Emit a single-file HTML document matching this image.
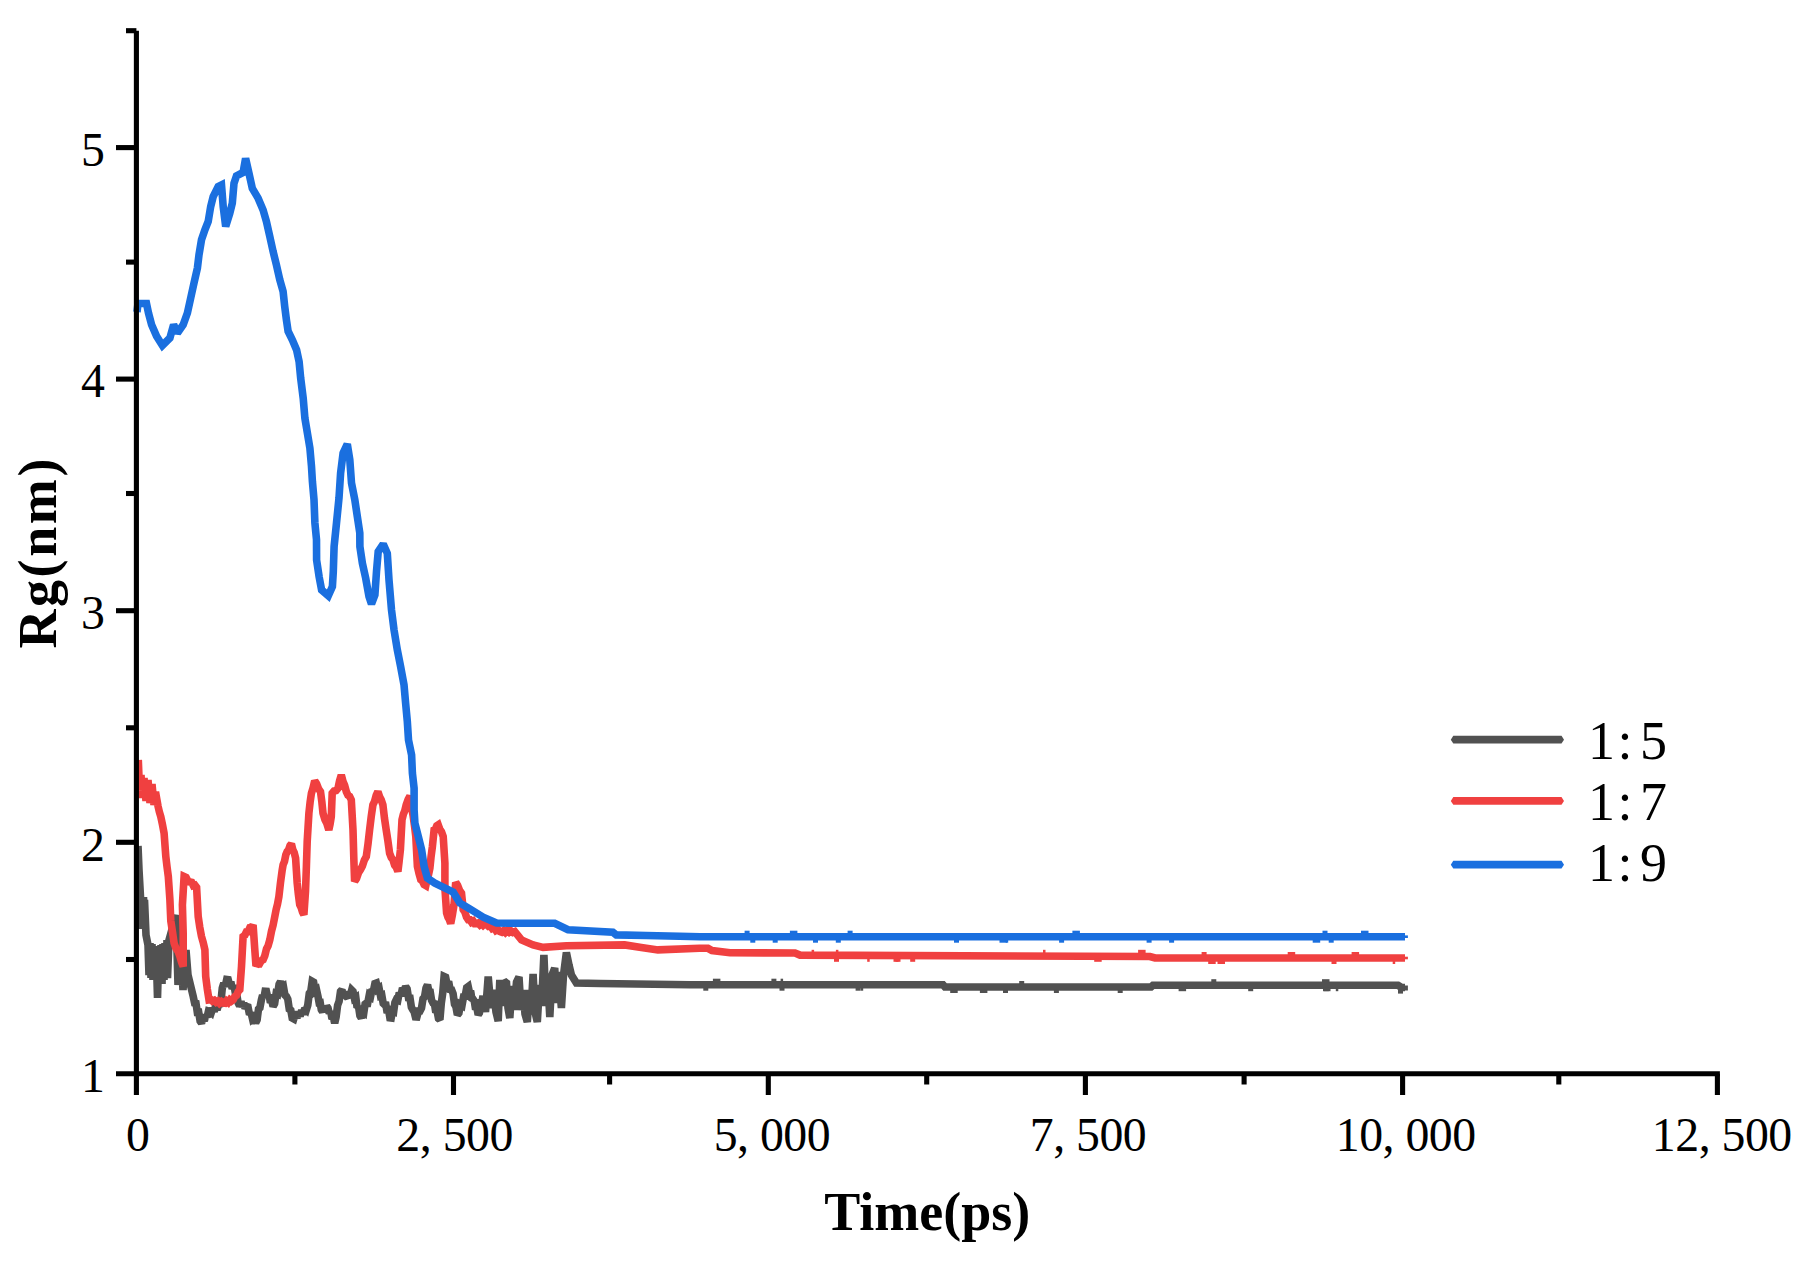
<!DOCTYPE html>
<html><head><meta charset="utf-8"><title>Rg vs Time</title>
<style>html,body{margin:0;padding:0;background:#fff}svg{display:block}</style>
</head><body>
<svg width="1805" height="1262" viewBox="0 0 1805 1262">
<rect x="0" y="0" width="1805" height="1262" fill="#fff"/>
<path d="M138.0 846.0 L139.0 870.0 L140.5 897.0 L141.0 929.0 L141.5 897.0 L142.0 929.0 L142.5 897.0 L143.0 929.0 L143.5 897.0 L144.0 929.0 L144.5 900.0 L146.0 935.0 L148.0 945.0 L149.0 975.0 L150.0 943.0 L151.0 978.0 L152.0 944.0 L153.0 980.0 L154.0 946.0 L155.0 980.0 L156.0 946.0 L157.5 998.0 L159.0 946.0 L160.0 984.0 L161.0 945.0 L162.0 984.0 L163.0 944.0 L164.0 980.0 L165.0 943.0 L166.0 978.0 L167.0 940.0 L167.5 978.0 L169.0 940.0 L176.0 915.0 L178.0 985.0 L181.0 950.0 L183.0 990.0 L186.0 950.0 L188.0 975.0 L193.2 996.4 L194.6 1003.0 L196.0 1003.3 L197.3 1012.3 L198.7 1012.2 L200.1 1021.0 L201.5 1023.0 L202.9 1018.8 L204.3 1021.0 L205.7 1014.8 L207.1 1017.1 L208.5 1011.0 L209.9 1011.4 L211.3 1012.6 L212.8 1008.1 L214.2 1011.6 L215.6 1005.8 L217.0 1009.8 L218.5 1005.0 L219.9 1006.4 L221.1 999.8 L222.3 988.1 L223.8 983.1 L225.2 986.4 L226.7 979.6 L228.2 979.8 L229.5 984.8 L230.8 981.9 L232.2 988.6 L233.5 985.7 L234.8 989.8 L235.9 996.2 L237.1 996.7 L238.2 1003.1 L239.6 1005.8 L241.0 1001.4 L242.3 1006.8 L243.7 1002.8 L245.1 1008.4 L246.5 1006.4 L248.0 1006.9 L249.5 1014.4 L251.1 1012.8 L252.6 1019.3 L254.1 1018.2 L255.6 1023.0 L257.1 1019.8 L258.5 1009.1 L259.9 1007.8 L261.4 999.8 L262.6 995.2 L263.9 997.9 L265.1 991.3 L266.4 991.4 L267.7 997.2 L269.1 994.8 L270.4 1002.5 L271.8 1000.9 L273.1 1006.4 L274.6 1003.8 L276.1 993.5 L277.6 994.1 L279.1 984.3 L280.6 981.4 L282.1 988.1 L283.5 987.0 L284.9 995.0 L286.4 996.4 L287.8 999.1 L289.3 1009.2 L290.8 1010.2 L292.2 1018.0 L293.8 1018.9 L295.4 1013.6 L296.9 1018.0 L298.5 1011.8 L300.1 1016.2 L301.7 1010.3 L303.2 1014.2 L304.8 1008.1 L306.4 1009.7 L307.8 1005.1 L309.3 993.2 L310.8 991.3 L312.2 981.4 L313.6 982.2 L315.1 991.3 L316.6 990.1 L318.0 996.4 L319.1 1002.7 L320.2 1002.6 L321.3 1009.7 L322.6 1011.9 L324.0 1006.0 L325.3 1011.5 L326.7 1006.2 L328.0 1008.0 L329.3 1013.3 L330.7 1011.4 L332.0 1018.8 L333.4 1017.6 L334.7 1023.0 L336.1 1017.1 L337.6 1005.3 L339.1 1001.2 L340.5 991.4 L341.9 989.9 L343.4 995.9 L344.9 993.1 L346.3 996.4 L347.6 997.7 L349.0 991.6 L350.3 995.3 L351.7 990.1 L353.0 991.4 L354.4 998.3 L355.8 997.4 L357.1 1007.5 L358.5 1006.3 L359.9 1015.7 L361.3 1018.0 L362.6 1012.0 L363.8 1012.8 L365.1 1004.0 L366.3 1003.1 L367.7 1003.2 L369.2 995.4 L370.6 996.5 L372.0 989.6 L373.4 990.9 L374.9 983.6 L376.3 983.1 L377.7 989.2 L379.1 988.2 L380.5 995.7 L381.8 995.2 L383.2 1003.3 L384.6 1004.7 L385.9 1004.9 L387.2 1013.0 L388.6 1010.1 L389.9 1017.8 L391.2 1018.0 L392.4 1010.9 L393.7 1011.5 L394.9 1002.5 L396.2 999.8 L397.8 1000.4 L399.3 992.6 L400.9 995.9 L402.5 988.1 L404.0 990.9 L405.6 986.4 L407.1 988.8 L408.5 997.8 L410.0 998.0 L411.4 1007.2 L412.9 1010.0 L414.1 1011.6 L415.4 1017.0 L416.9 1017.1 L418.5 1011.0 L420.0 1011.0 L421.5 1008.0 L423.0 998.7 L424.5 997.1 L426.0 988.1 L427.5 984.8 L428.9 991.3 L430.2 991.7 L431.6 1000.3 L433.0 1003.0 L434.4 1003.5 L435.8 1012.3 L437.1 1011.1 L438.5 1018.5 L439.9 1019.8 L441.3 1003.1 L442.7 993.2 L444.1 976.5 L445.6 977.2 L447.1 984.6 L448.6 981.5 L450.1 989.5 L451.6 989.8 L453.1 993.7 L454.5 1004.2 L455.9 1006.6 L457.4 1014.8 L458.9 1013.0 L460.5 1004.6 L462.0 1005.5 L463.6 996.6 L465.1 996.4 L466.7 987.6 L468.2 986.5 L469.4 992.1 L470.6 990.8 L471.8 998.3 L473.0 999.0 L474.3 1001.1 L475.6 1009.3 L476.9 1007.9 L478.2 1014.8 L479.4 1012.9 L480.6 1002.8 L481.8 1002.8 L483.0 996.0 L485.5 1012.0 L488.2 976.5 L491.0 1008.0 L493.5 990.0 L496.0 1012.0 L498.2 1021.0 L499.8 980.0 L502.0 1006.0 L504.0 981.0 L506.5 983.0 L508.0 1008.0 L509.8 1018.0 L512.0 986.0 L514.0 1010.0 L516.5 982.0 L519.0 977.0 L521.0 1010.0 L523.0 990.0 L525.0 1014.0 L527.3 1022.0 L529.5 990.0 L531.0 1012.0 L533.1 974.0 L535.0 1012.0 L537.3 1022.0 L539.5 985.0 L541.5 1006.0 L543.9 955.0 L546.0 1006.0 L547.5 975.0 L549.8 1017.0 L552.0 975.0 L554.7 968.0 L556.5 1003.0 L558.5 972.0 L561.4 1008.0 L563.5 975.0 L566.4 952.5 L569.0 965.0 L571.4 975.0 L576.4 983.1 L600.0 983.5 L690.0 984.7 L943.0 984.7 L945.0 987.0 L1151.0 987.0 L1153.0 985.2 L1398.0 985.2 L1401.5 987.5 L1405.0 987.5" fill="none" stroke="#515151" stroke-width="7.6" stroke-linejoin="miter" stroke-miterlimit="2"/>
<path d="M138.3 760.0 L139.5 790.0 L141.0 775.0 L142.5 798.0 L144.0 778.0 L146.0 801.0 L148.0 780.0 L150.0 803.0 L152.0 784.0 L154.0 805.0 L155.5 792.0 L158.0 806.0 L159.4 812.0 L160.8 816.6 L162.4 824.2 L164.1 833.2 L165.8 856.5 L167.1 867.4 L168.3 876.5 L169.9 899.8 L170.8 921.0 L172.4 931.3 L174.1 943.2 L176.0 948.5 L178.0 951.3 L179.9 956.5 L181.6 962.2 L183.2 966.5 L183.2 933.2 L182.4 904.9 L184.1 876.6 L186.1 877.5 L188.0 881.2 L190.0 882.0 L191.7 882.4 L193.3 885.6 L194.9 885.1 L196.6 887.4 L198.2 916.6 L199.8 927.4 L201.5 936.5 L203.2 942.5 L204.9 949.8 L205.7 976.5 L207.3 989.0 L209.0 999.8 L210.8 999.5 L212.6 1001.2 L214.3 1000.4 L216.1 1002.2 L217.9 1001.2 L219.6 1003.2 L221.4 1001.7 L223.2 1003.1 L224.9 1003.3 L226.5 1001.0 L228.2 1002.4 L229.9 999.9 L231.5 1001.1 L233.2 999.8 L234.8 996.6 L236.5 995.5 L238.2 991.6 L239.8 989.8 L241.5 966.5 L243.1 936.5 L244.8 935.2 L246.4 931.8 L248.1 931.7 L249.8 927.8 L251.4 927.6 L253.1 924.9 L254.8 949.8 L256.0 966.0 L257.8 963.6 L259.6 963.8 L261.3 960.7 L263.1 959.8 L264.8 955.7 L266.5 948.9 L268.1 945.8 L269.8 939.9 L271.5 931.2 L273.1 925.2 L274.8 916.6 L276.2 909.3 L277.5 904.2 L278.9 896.6 L280.5 882.6 L282.2 870.0 L283.1 864.8 L284.5 861.3 L285.8 854.9 L287.2 851.5 L288.6 849.8 L290.0 845.7 L291.4 844.0 L292.8 849.7 L294.2 852.6 L295.6 858.2 L297.2 883.1 L298.4 894.6 L299.7 904.7 L301.1 907.4 L302.5 912.0 L303.9 914.7 L305.5 891.4 L306.4 866.5 L307.2 841.5 L308.9 813.2 L310.1 802.3 L311.4 793.3 L313.0 788.0 L314.7 780.8 L316.6 783.7 L318.6 788.9 L320.5 791.6 L321.8 801.4 L323.0 813.2 L324.9 819.6 L326.9 823.6 L328.8 829.9 L330.1 824.1 L331.3 816.6 L332.2 793.3 L334.1 791.0 L336.1 790.6 L338.0 788.3 L339.6 780.7 L341.3 775.0 L343.0 781.4 L344.6 785.3 L346.3 791.6 L348.0 795.3 L349.6 796.4 L351.3 799.9 L353.0 829.9 L353.8 858.2 L354.6 881.4 L356.5 878.5 L358.5 872.7 L360.4 869.8 L362.4 866.1 L364.3 860.2 L366.3 856.5 L368.0 843.9 L369.6 829.9 L371.2 816.7 L372.9 804.9 L374.6 801.3 L376.2 795.3 L377.9 791.6 L379.6 796.8 L381.2 799.8 L382.9 804.9 L384.5 818.4 L386.2 829.9 L387.9 840.8 L389.6 853.2 L391.3 857.6 L392.9 859.7 L394.6 865.1 L396.2 867.1 L397.9 871.5 L399.1 861.6 L400.4 849.8 L402.0 819.9 L403.4 814.1 L404.8 810.7 L406.2 804.9 L408.1 799.6 L410.0 796.0 L411.5 806.1 L413.0 815.0 L414.4 825.0 L415.8 836.5 L417.4 866.4 L419.1 873.8 L420.8 879.8 L422.5 881.1 L424.1 884.6 L425.8 885.6 L427.2 879.1 L428.5 874.7 L429.9 868.1 L431.1 856.4 L432.4 846.5 L434.1 829.8 L435.5 829.0 L436.8 825.7 L438.2 824.8 L439.9 829.5 L441.5 831.8 L443.2 836.5 L444.9 863.1 L444.9 888.1 L446.6 913.0 L448.0 917.4 L449.3 919.4 L450.7 923.5 L452.4 914.9 L454.0 904.7 L455.7 882.5 L457.6 885.3 L459.6 890.3 L461.5 893.1 L463.2 909.7 L464.9 912.1 L466.5 917.2 L468.2 919.7 L469.9 919.7 L471.5 922.2 L473.2 921.2 L474.8 923.8 L476.5 923.8 L478.2 923.1 L479.8 924.8 L481.5 923.3 L483.2 925.1 L484.8 923.6 L486.5 924.5 L488.4 926.3 L490.3 925.7 L492.2 928.5 L494.1 927.6 L496.0 930.5 L497.9 929.5 L499.8 931.5 L501.7 932.2 L503.6 930.7 L505.4 932.5 L507.3 930.6 L509.2 932.2 L511.0 930.9 L512.9 932.4 L514.8 931.6 L521.5 939.9 L533.1 944.9 L543.1 947.4 L566.4 945.7 L624.6 944.9 L641.3 947.4 L657.9 949.9 L699.5 948.3 L708.0 948.3 L712.0 950.5 L730.0 952.8 L795.0 953.0 L800.0 955.1 L1150.0 956.5 L1155.0 958.0 L1405.0 958.0" fill="none" stroke="#f04040" stroke-width="7.6" stroke-linejoin="miter" stroke-miterlimit="2"/>
<path d="M137.0 312.0 L138.0 303.5 L146.5 303.5 L148.5 313.0 L151.6 324.7 L156.6 336.3 L162.4 345.5 L169.9 338.0 L173.6 324.7 L177.4 333.0 L183.2 324.7 L187.4 313.0 L190.7 298.0 L194.0 283.0 L197.4 268.0 L199.0 254.8 L201.5 239.8 L204.9 229.8 L208.2 221.5 L210.7 206.5 L213.2 196.6 L218.2 186.6 L221.5 184.9 L223.2 206.5 L225.7 226.5 L229.8 213.2 L232.3 203.2 L234.0 183.3 L236.5 175.8 L243.1 172.4 L245.6 158.3 L249.0 173.3 L252.3 188.3 L258.1 198.2 L263.1 209.9 L266.4 221.5 L269.8 236.5 L273.1 251.5 L276.4 264.8 L279.8 279.8 L283.1 291.4 L284.7 306.4 L286.4 319.7 L288.1 331.3 L292.4 340.0 L296.6 350.0 L299.1 361.6 L300.7 378.3 L303.2 398.2 L304.9 418.2 L307.4 433.2 L309.9 448.2 L311.5 466.5 L312.4 481.4 L314.0 499.7 L314.9 523.0 L316.5 539.7 L316.6 560.0 L319.1 576.6 L321.6 589.9 L328.3 595.7 L332.4 586.6 L333.3 571.6 L334.1 546.6 L336.5 523.0 L339.0 498.0 L340.6 473.0 L343.1 453.0 L347.3 444.0 L349.8 459.8 L351.5 483.0 L354.8 499.7 L357.3 516.4 L359.8 533.0 L359.9 546.6 L362.4 563.3 L365.7 578.3 L369.0 596.6 L371.5 604.0 L374.9 594.9 L376.5 571.6 L378.2 551.6 L383.2 544.1 L387.3 553.3 L389.0 579.9 L391.5 609.9 L394.0 629.8 L397.3 649.8 L400.6 666.4 L404.0 684.7 L405.6 703.0 L407.3 721.3 L408.5 740.0 L411.6 755.0 L412.4 773.3 L414.1 788.2 L414.1 809.9 L414.9 823.2 L418.3 836.5 L421.6 849.8 L424.1 866.4 L427.4 878.1 L434.9 883.1 L446.6 888.9 L453.2 892.2 L459.9 903.0 L469.9 908.9 L483.2 917.2 L496.5 923.0 L513.1 923.3 L554.7 923.3 L568.0 929.7 L612.9 932.2 L616.3 934.9 L646.2 935.5 L679.5 936.3 L700.0 936.7 L1405.0 936.7" fill="none" stroke="#1a6fdf" stroke-width="7.6" stroke-linejoin="miter" stroke-miterlimit="2"/>
<rect x="750.3" y="939.3" width="5" height="3.4" fill="#1a6fdf"/><rect x="847.6" y="930.7" width="5" height="3.4" fill="#1a6fdf"/><rect x="1322.5" y="930.7" width="5" height="3.4" fill="#1a6fdf"/><rect x="1146.6" y="939.3" width="5" height="3.4" fill="#1a6fdf"/><rect x="1312.7" y="939.3" width="7.5" height="3.4" fill="#1a6fdf"/><rect x="1361.0" y="930.7" width="7.5" height="3.4" fill="#1a6fdf"/><rect x="813.0" y="939.3" width="5" height="3.4" fill="#1a6fdf"/><rect x="999.5" y="939.3" width="7.5" height="3.4" fill="#1a6fdf"/><rect x="835.8" y="939.3" width="5" height="3.4" fill="#1a6fdf"/><rect x="954.0" y="939.3" width="5" height="3.4" fill="#1a6fdf"/><rect x="1005.7" y="939.3" width="2.5" height="3.4" fill="#1a6fdf"/><rect x="1059.1" y="939.3" width="5" height="3.4" fill="#1a6fdf"/><rect x="744.6" y="930.7" width="5" height="3.4" fill="#1a6fdf"/><rect x="772.7" y="939.3" width="5" height="3.4" fill="#1a6fdf"/><rect x="1328.7" y="939.3" width="5" height="3.4" fill="#1a6fdf"/><rect x="789.9" y="930.7" width="7.5" height="3.4" fill="#1a6fdf"/><rect x="1169.1" y="939.3" width="5" height="3.4" fill="#1a6fdf"/><rect x="1072.4" y="930.7" width="7.5" height="3.4" fill="#1a6fdf"/><rect x="835.9" y="949.8" width="2.5" height="3.4" fill="#f04040"/><rect x="867.2" y="958.4" width="2.5" height="3.4" fill="#f04040"/><rect x="811.6" y="949.8" width="2.5" height="3.4" fill="#f04040"/><rect x="834.0" y="958.4" width="5" height="3.4" fill="#f04040"/><rect x="1094.2" y="958.4" width="7.5" height="3.4" fill="#f04040"/><rect x="1138.1" y="949.8" width="7.5" height="3.4" fill="#f04040"/><rect x="895.5" y="958.4" width="5" height="3.4" fill="#f04040"/><rect x="1043.0" y="949.8" width="2.5" height="3.4" fill="#f04040"/><rect x="893.5" y="958.4" width="5" height="3.4" fill="#f04040"/><rect x="910.2" y="958.4" width="5" height="3.4" fill="#f04040"/><rect x="1208.2" y="960.6" width="7.5" height="3.4" fill="#f04040"/><rect x="1201.6" y="952.0" width="5" height="3.4" fill="#f04040"/><rect x="1392.7" y="960.6" width="2.5" height="3.4" fill="#f04040"/><rect x="1331.5" y="960.6" width="5" height="3.4" fill="#f04040"/><rect x="1217.5" y="960.6" width="7.5" height="3.4" fill="#f04040"/><rect x="1351.6" y="952.0" width="7.5" height="3.4" fill="#f04040"/><rect x="1287.7" y="952.0" width="7.5" height="3.4" fill="#f04040"/><rect x="771.4" y="978.7" width="5" height="3.4" fill="#515151"/><rect x="779.5" y="987.3" width="5" height="3.4" fill="#515151"/><rect x="780.6" y="978.7" width="2.5" height="3.4" fill="#515151"/><rect x="703.3" y="987.3" width="5" height="3.4" fill="#515151"/><rect x="712.9" y="978.7" width="7.5" height="3.4" fill="#515151"/><rect x="855.6" y="987.3" width="5" height="3.4" fill="#515151"/><rect x="860.7" y="987.3" width="2.5" height="3.4" fill="#515151"/><rect x="979.9" y="989.6" width="7.5" height="3.4" fill="#515151"/><rect x="1019.2" y="981.0" width="5" height="3.4" fill="#515151"/><rect x="1053.9" y="989.6" width="5" height="3.4" fill="#515151"/><rect x="1117.7" y="989.6" width="5" height="3.4" fill="#515151"/><rect x="950.2" y="989.6" width="7.5" height="3.4" fill="#515151"/><rect x="1003.0" y="989.6" width="5" height="3.4" fill="#515151"/><rect x="1335.8" y="987.8" width="2.5" height="3.4" fill="#515151"/><rect x="1178.6" y="987.8" width="7.5" height="3.4" fill="#515151"/><rect x="1248.2" y="987.8" width="5" height="3.4" fill="#515151"/><rect x="1211.3" y="979.2" width="5" height="3.4" fill="#515151"/><rect x="1322.0" y="979.2" width="7.5" height="3.4" fill="#515151"/><rect x="1323.0" y="987.8" width="7.5" height="3.4" fill="#515151"/><rect x="1323.8" y="987.8" width="5" height="3.4" fill="#515151"/><rect x="1404.8" y="935.4" width="3.1" height="2.6" fill="#1a6fdf"/><rect x="1404.8" y="956.7" width="3.1" height="2.6" fill="#f04040"/><rect x="1404.8" y="985.5" width="3.1" height="5" fill="#515151"/><rect x="1398" y="990" width="5" height="3.6" fill="#515151"/>
<g stroke="#000" stroke-width="5.1" stroke-linecap="butt"><line x1="136.4" y1="30.8" x2="136.4" y2="1095"/><line x1="116" y1="1073.8" x2="1719.9" y2="1073.8"/><line x1="116" y1="842.3" x2="136.4" y2="842.3"/><line x1="116" y1="610.7" x2="136.4" y2="610.7"/><line x1="116" y1="379.1" x2="136.4" y2="379.1"/><line x1="116" y1="147.6" x2="136.4" y2="147.6"/><line x1="126" y1="959.5" x2="136.4" y2="959.5"/><line x1="126" y1="727.8" x2="136.4" y2="727.8"/><line x1="126" y1="493.5" x2="136.4" y2="493.5"/><line x1="126" y1="262.1" x2="136.4" y2="262.1"/><line x1="126" y1="30.7" x2="136.4" y2="30.7"/><line x1="453.5" y1="1073.8" x2="453.5" y2="1095"/><line x1="768.3" y1="1073.8" x2="768.3" y2="1095"/><line x1="1085.4" y1="1073.8" x2="1085.4" y2="1095"/><line x1="1402.6" y1="1073.8" x2="1402.6" y2="1095"/><line x1="1717.4" y1="1073.8" x2="1717.4" y2="1095"/><line x1="294.9" y1="1073.8" x2="294.9" y2="1084.5"/><line x1="609.6" y1="1073.8" x2="609.6" y2="1084.5"/><line x1="926.7" y1="1073.8" x2="926.7" y2="1084.5"/><line x1="1244.1" y1="1073.8" x2="1244.1" y2="1084.5"/><line x1="1558.8" y1="1073.8" x2="1558.8" y2="1084.5"/></g>
<g font-family="'Liberation Serif', serif" font-size="47.8" letter-spacing="-0.5" fill="#000"><text x="104.5" y="1092.1" text-anchor="end">1</text><text x="104.5" y="860.5" text-anchor="end">2</text><text x="104.5" y="628.9" text-anchor="end">3</text><text x="104.5" y="397.3" text-anchor="end">4</text><text x="104.5" y="165.8" text-anchor="end">5</text><text x="137.6" y="1151.2" text-anchor="middle" xml:space="preserve">0</text><text x="454.6" y="1151.2" text-anchor="middle" xml:space="preserve">2, 500</text><text x="771.9" y="1151.2" text-anchor="middle" xml:space="preserve">5, 000</text><text x="1088" y="1151.2" text-anchor="middle" xml:space="preserve">7, 500</text><text x="1405.7" y="1151.2" text-anchor="middle" xml:space="preserve">10, 000</text><text x="1721.8" y="1151.2" text-anchor="middle" xml:space="preserve">12, 500</text></g>
<text x="927.3" y="1230.1" text-anchor="middle" font-family="'Liberation Serif', serif" font-weight="bold" font-size="54" fill="#000">Time(ps)</text>
<text transform="translate(55.8 552.3) rotate(-90)" text-anchor="middle" font-family="'Liberation Serif', serif" font-weight="bold" font-size="54" letter-spacing="2.6" fill="#000">Rg(nm)</text>
<path d="M1450.8 739.7 L1453.3 735.8000000000001 L1561.5 735.8000000000001 L1564 739.7 L1561.5 743.6 L1453.3 743.6 Z" fill="#515151"/><text y="758.9" font-family="'Liberation Serif', serif" font-size="54" fill="#000" x="1588 1617.5 1640">1:5</text><path d="M1450.8 800.9 L1453.3 797.0 L1561.5 797.0 L1564 800.9 L1561.5 804.8 L1453.3 804.8 Z" fill="#f04040"/><text y="819.9" font-family="'Liberation Serif', serif" font-size="54" fill="#000" x="1588 1617.5 1640">1:7</text><path d="M1450.8 864.7 L1453.3 860.8000000000001 L1561.5 860.8000000000001 L1564 864.7 L1561.5 868.6 L1453.3 868.6 Z" fill="#1a6fdf"/><text y="881.0" font-family="'Liberation Serif', serif" font-size="54" fill="#000" x="1588 1617.5 1640">1:9</text>
</svg>
</body></html>
